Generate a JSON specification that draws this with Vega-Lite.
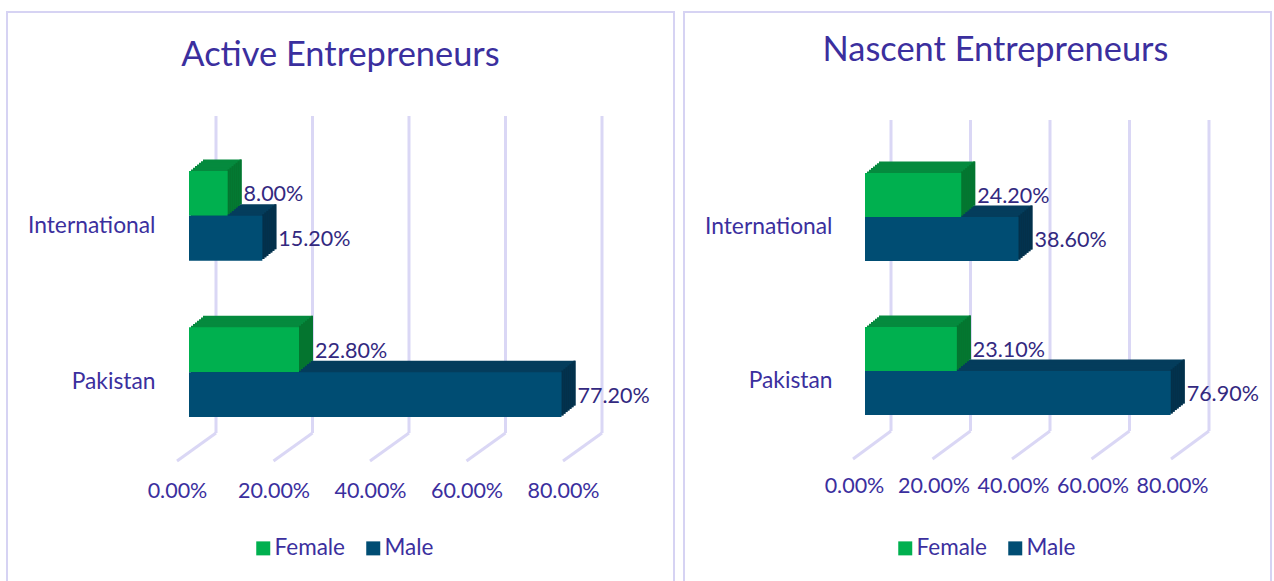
{
"$schema":"https://vega.github.io/schema/vega-lite/v6.json",
"autosize":{"type":"pad"},
"padding":{"left":6,"top":11,"right":4,"bottom":0},
"background":"#ffffff",
"spacing":8,
"config":{"view":{"stroke":"#D6D3F3","strokeWidth":2},"font":"Lato"},
"datasets":{
"ticks":[{"t":0,"top":1,"bottom":0},{"t":0.2,"top":1,"bottom":0},{"t":0.4,"top":1,"bottom":0},{"t":0.6,"top":1,"bottom":0},{"t":0.8,"top":1,"bottom":0}],
"active":[{"region":"International","gender":"Female","share":0.08},{"region":"International","gender":"Male","share":0.152},{"region":"Pakistan","gender":"Female","share":0.228},{"region":"Pakistan","gender":"Male","share":0.772}],
"nascent":[{"region":"International","gender":"Female","share":0.242},{"region":"International","gender":"Male","share":0.386},{"region":"Pakistan","gender":"Female","share":0.231},{"region":"Pakistan","gender":"Male","share":0.769}]
},
"hconcat":[
{"width":667,"height":570,
"title":{"text":"Active Entrepreneurs","fontSize":34.4,"fontWeight":"normal","color":"#3B2F9E","anchor":"middle","dy":65},
"resolve":{"scale":{"y":"independent","yOffset":"independent","fill":"independent"}},
"layer":[
{"data":{"name":"ticks"},"mark":{"type":"rule","stroke":"#DAD7F5","strokeWidth":3,"xOffset":27},
 "encoding":{"x":{"field":"t","type":"quantitative","scale":{"domain":[0,0.8],"range":[182,568]},"axis":{"values":[0,0.2,0.4,0.6,0.8],"format":".2%","title":null,"domain":false,"ticks":false,"grid":false,"labelFontSize":21.5,"labelColor":"#3B2F9E","labelBaseline":"top","labelPadding":0,"labelOffset":-12,"offset":-102,"labelFlush":false}},
 "y":{"field":"top","type":"quantitative","scale":{"domain":[0,1],"range":[421,104]},"axis":null},"y2":{"field":"bottom"}}},
{"data":{"name":"ticks"},"mark":{"type":"rule","stroke":"#DAD7F5","strokeWidth":3,"xOffset":27,"x2Offset":-12,"y2Offset":28},
 "encoding":{"x":{"field":"t","type":"quantitative"},"x2":{"field":"t"},
 "y":{"field":"bottom","type":"quantitative","scale":{"domain":[0,1],"range":[421,104]},"axis":null},"y2":{"field":"bottom"}}},
{"data":{"name":"active"},
 "resolve":{"scale":{"y":"independent","yOffset":"independent"}},
 "encoding":{"x":{"field":"share","type":"quantitative","stack":null},"x2":{"datum":0},
 "yOffset":{"field":"gender","type":"nominal","sort":["Female","Male"]},
 "fill":{"field":"gender","type":"nominal","scale":{"domain":["Female","Male"],"range":["#058A3E","#043D5C"]},"legend":null}},
 "layer":[
 {"mark":{"type":"bar","xOffset":14,"x2Offset":14},"encoding":{"y":{"field":"region","type":"nominal","sort":["International","Pakistan"],"scale":{"range":[147.5,393.5],"paddingInner":0.4268,"paddingOuter":0},"axis":null}}},
 {"mark":{"type":"bar","xOffset":12,"x2Offset":12},"encoding":{"y":{"field":"region","type":"nominal","sort":["International","Pakistan"],"scale":{"range":[149.2,395.2],"paddingInner":0.4268,"paddingOuter":0},"axis":null}}},
 {"mark":{"type":"bar","xOffset":10,"x2Offset":10},"encoding":{"y":{"field":"region","type":"nominal","sort":["International","Pakistan"],"scale":{"range":[150.8,396.8],"paddingInner":0.4268,"paddingOuter":0},"axis":null}}},
 {"mark":{"type":"bar","xOffset":8,"x2Offset":8},"encoding":{"y":{"field":"region","type":"nominal","sort":["International","Pakistan"],"scale":{"range":[152.4,398.4],"paddingInner":0.4268,"paddingOuter":0},"axis":null}}},
 {"mark":{"type":"bar","xOffset":6,"x2Offset":6},"encoding":{"y":{"field":"region","type":"nominal","sort":["International","Pakistan"],"scale":{"range":[154.1,400.1],"paddingInner":0.4268,"paddingOuter":0},"axis":null}}},
 {"mark":{"type":"bar","xOffset":4,"x2Offset":4},"encoding":{"y":{"field":"region","type":"nominal","sort":["International","Pakistan"],"scale":{"range":[155.7,401.7],"paddingInner":0.4268,"paddingOuter":0},"axis":null}}},
 {"mark":{"type":"bar","xOffset":2,"x2Offset":2},"encoding":{"y":{"field":"region","type":"nominal","sort":["International","Pakistan"],"scale":{"range":[157.4,403.4],"paddingInner":0.4268,"paddingOuter":0},"axis":null}}}
 ]},
{"data":{"name":"active"},
 "resolve":{"scale":{"y":"independent","yOffset":"independent"}},
 "encoding":{"x":{"field":"share","type":"quantitative","stack":null},"x2":{"field":"share"},
 "yOffset":{"field":"gender","type":"nominal","sort":["Female","Male"]},
 "fill":{"field":"gender","type":"nominal","scale":{"domain":["Female","Male"],"range":["#04752F","#03304A"]},"legend":null}},
 "layer":[
 {"mark":{"type":"bar","xOffset":12,"x2Offset":14},"encoding":{"y":{"field":"region","type":"nominal","sort":["International","Pakistan"],"scale":{"range":[147.5,393.5],"paddingInner":0.4268,"paddingOuter":0},"axis":null}}},
 {"mark":{"type":"bar","xOffset":10,"x2Offset":12},"encoding":{"y":{"field":"region","type":"nominal","sort":["International","Pakistan"],"scale":{"range":[149.2,395.2],"paddingInner":0.4268,"paddingOuter":0},"axis":null}}},
 {"mark":{"type":"bar","xOffset":8,"x2Offset":10},"encoding":{"y":{"field":"region","type":"nominal","sort":["International","Pakistan"],"scale":{"range":[150.8,396.8],"paddingInner":0.4268,"paddingOuter":0},"axis":null}}},
 {"mark":{"type":"bar","xOffset":6,"x2Offset":8},"encoding":{"y":{"field":"region","type":"nominal","sort":["International","Pakistan"],"scale":{"range":[152.4,398.4],"paddingInner":0.4268,"paddingOuter":0},"axis":null}}},
 {"mark":{"type":"bar","xOffset":4,"x2Offset":6},"encoding":{"y":{"field":"region","type":"nominal","sort":["International","Pakistan"],"scale":{"range":[154.1,400.1],"paddingInner":0.4268,"paddingOuter":0},"axis":null}}},
 {"mark":{"type":"bar","xOffset":2,"x2Offset":4},"encoding":{"y":{"field":"region","type":"nominal","sort":["International","Pakistan"],"scale":{"range":[155.7,401.7],"paddingInner":0.4268,"paddingOuter":0},"axis":null}}},
 {"mark":{"type":"bar","xOffset":0,"x2Offset":2},"encoding":{"y":{"field":"region","type":"nominal","sort":["International","Pakistan"],"scale":{"range":[157.4,403.4],"paddingInner":0.4268,"paddingOuter":0},"axis":null}}}
 ]},
{"data":{"name":"active"},
 "encoding":{"y":{"field":"region","type":"nominal","sort":["International","Pakistan"],"scale":{"range":[159,405],"paddingInner":0.4268,"paddingOuter":0},"axis":{"title":null,"domain":false,"ticks":false,"labelFontSize":22.8,"labelColor":"#3B2F9E","labelPadding":0,"labelOffset":10,"offset":-148}},
 "yOffset":{"field":"gender","type":"nominal","sort":["Female","Male"]},
 "x":{"field":"share","type":"quantitative","stack":null},
 "fill":{"field":"gender","type":"nominal","sort":["Female","Male"],"scale":{"domain":["Female","Male"],"range":["#00B04F","#004D73"]},"legend":{"title":null,"orient":"none","legendX":245,"legendY":525,"direction":"horizontal","columns":2,"symbolType":"square","symbolSize":196,"symbolStrokeWidth":0,"labelFontSize":22.5,"labelColor":"#3B2F9E","columnPadding":16,"labelOffset":0}}},
 "layer":[
 {"mark":{"type":"bar"}},
 {"mark":{"type":"text","align":"left","baseline":"middle","dx":16,"dy":2,"fontSize":21.5},"encoding":{"text":{"field":"share","type":"quantitative","format":".2%"},"fill":{"value":"#33297F"}}}
 ]}
]},
{"width":587,"height":570,
"title":{"text":"Nascent Entrepreneurs","fontSize":34.4,"fontWeight":"normal","color":"#3B2F9E","anchor":"middle","dx":18,"dy":60},
"resolve":{"scale":{"y":"independent","yOffset":"independent","fill":"independent"}},
"layer":[
{"data":{"name":"ticks"},"mark":{"type":"rule","stroke":"#DAD7F5","strokeWidth":3,"xOffset":26},
 "encoding":{"x":{"field":"t","type":"quantitative","scale":{"domain":[0,0.8],"range":[181,499]},"axis":{"values":[0,0.2,0.4,0.6,0.8],"format":".2%","title":null,"domain":false,"ticks":false,"grid":false,"labelFontSize":21.5,"labelColor":"#3B2F9E","labelBaseline":"top","labelPadding":0,"labelOffset":-11,"offset":-107,"labelFlush":false}},
 "y":{"field":"top","type":"quantitative","scale":{"domain":[0,1],"range":[419,108]},"axis":null},"y2":{"field":"bottom"}}},
{"data":{"name":"ticks"},"mark":{"type":"rule","stroke":"#DAD7F5","strokeWidth":3,"xOffset":26,"x2Offset":-12,"y2Offset":28},
 "encoding":{"x":{"field":"t","type":"quantitative"},"x2":{"field":"t"},
 "y":{"field":"bottom","type":"quantitative","scale":{"domain":[0,1],"range":[419,108]},"axis":null},"y2":{"field":"bottom"}}},
{"data":{"name":"nascent"},
 "resolve":{"scale":{"y":"independent","yOffset":"independent"}},
 "encoding":{"x":{"field":"share","type":"quantitative","stack":null},"x2":{"datum":0},
 "yOffset":{"field":"gender","type":"nominal","sort":["Female","Male"]},
 "fill":{"field":"gender","type":"nominal","scale":{"domain":["Female","Male"],"range":["#058A3E","#043D5C"]},"legend":null}},
 "layer":[
 {"mark":{"type":"bar","xOffset":14,"x2Offset":14},"encoding":{"y":{"field":"region","type":"nominal","sort":["International","Pakistan"],"scale":{"range":[149.5,391.5],"paddingInner":0.4286,"paddingOuter":0},"axis":null}}},
 {"mark":{"type":"bar","xOffset":12,"x2Offset":12},"encoding":{"y":{"field":"region","type":"nominal","sort":["International","Pakistan"],"scale":{"range":[151.2,393.2],"paddingInner":0.4286,"paddingOuter":0},"axis":null}}},
 {"mark":{"type":"bar","xOffset":10,"x2Offset":10},"encoding":{"y":{"field":"region","type":"nominal","sort":["International","Pakistan"],"scale":{"range":[152.8,394.8],"paddingInner":0.4286,"paddingOuter":0},"axis":null}}},
 {"mark":{"type":"bar","xOffset":8,"x2Offset":8},"encoding":{"y":{"field":"region","type":"nominal","sort":["International","Pakistan"],"scale":{"range":[154.4,396.4],"paddingInner":0.4286,"paddingOuter":0},"axis":null}}},
 {"mark":{"type":"bar","xOffset":6,"x2Offset":6},"encoding":{"y":{"field":"region","type":"nominal","sort":["International","Pakistan"],"scale":{"range":[156.1,398.1],"paddingInner":0.4286,"paddingOuter":0},"axis":null}}},
 {"mark":{"type":"bar","xOffset":4,"x2Offset":4},"encoding":{"y":{"field":"region","type":"nominal","sort":["International","Pakistan"],"scale":{"range":[157.7,399.7],"paddingInner":0.4286,"paddingOuter":0},"axis":null}}},
 {"mark":{"type":"bar","xOffset":2,"x2Offset":2},"encoding":{"y":{"field":"region","type":"nominal","sort":["International","Pakistan"],"scale":{"range":[159.4,401.4],"paddingInner":0.4286,"paddingOuter":0},"axis":null}}}
 ]},
{"data":{"name":"nascent"},
 "resolve":{"scale":{"y":"independent","yOffset":"independent"}},
 "encoding":{"x":{"field":"share","type":"quantitative","stack":null},"x2":{"field":"share"},
 "yOffset":{"field":"gender","type":"nominal","sort":["Female","Male"]},
 "fill":{"field":"gender","type":"nominal","scale":{"domain":["Female","Male"],"range":["#04752F","#03304A"]},"legend":null}},
 "layer":[
 {"mark":{"type":"bar","xOffset":12,"x2Offset":14},"encoding":{"y":{"field":"region","type":"nominal","sort":["International","Pakistan"],"scale":{"range":[149.5,391.5],"paddingInner":0.4286,"paddingOuter":0},"axis":null}}},
 {"mark":{"type":"bar","xOffset":10,"x2Offset":12},"encoding":{"y":{"field":"region","type":"nominal","sort":["International","Pakistan"],"scale":{"range":[151.2,393.2],"paddingInner":0.4286,"paddingOuter":0},"axis":null}}},
 {"mark":{"type":"bar","xOffset":8,"x2Offset":10},"encoding":{"y":{"field":"region","type":"nominal","sort":["International","Pakistan"],"scale":{"range":[152.8,394.8],"paddingInner":0.4286,"paddingOuter":0},"axis":null}}},
 {"mark":{"type":"bar","xOffset":6,"x2Offset":8},"encoding":{"y":{"field":"region","type":"nominal","sort":["International","Pakistan"],"scale":{"range":[154.4,396.4],"paddingInner":0.4286,"paddingOuter":0},"axis":null}}},
 {"mark":{"type":"bar","xOffset":4,"x2Offset":6},"encoding":{"y":{"field":"region","type":"nominal","sort":["International","Pakistan"],"scale":{"range":[156.1,398.1],"paddingInner":0.4286,"paddingOuter":0},"axis":null}}},
 {"mark":{"type":"bar","xOffset":2,"x2Offset":4},"encoding":{"y":{"field":"region","type":"nominal","sort":["International","Pakistan"],"scale":{"range":[157.7,399.7],"paddingInner":0.4286,"paddingOuter":0},"axis":null}}},
 {"mark":{"type":"bar","xOffset":0,"x2Offset":2},"encoding":{"y":{"field":"region","type":"nominal","sort":["International","Pakistan"],"scale":{"range":[159.4,401.4],"paddingInner":0.4286,"paddingOuter":0},"axis":null}}}
 ]},
{"data":{"name":"nascent"},
 "encoding":{"y":{"field":"region","type":"nominal","sort":["International","Pakistan"],"scale":{"range":[161,403],"paddingInner":0.4286,"paddingOuter":0},"axis":{"title":null,"domain":false,"ticks":false,"labelFontSize":22.8,"labelColor":"#3B2F9E","labelPadding":0,"labelOffset":10,"offset":-148}},
 "yOffset":{"field":"gender","type":"nominal","sort":["Female","Male"]},
 "x":{"field":"share","type":"quantitative","stack":null},
 "fill":{"field":"gender","type":"nominal","sort":["Female","Male"],"scale":{"domain":["Female","Male"],"range":["#00B04F","#004D73"]},"legend":{"title":null,"orient":"none","legendX":210,"legendY":525,"direction":"horizontal","columns":2,"symbolType":"square","symbolSize":196,"symbolStrokeWidth":0,"labelFontSize":22.5,"labelColor":"#3B2F9E","columnPadding":16,"labelOffset":0}}},
 "layer":[
 {"mark":{"type":"bar"}},
 {"mark":{"type":"text","align":"left","baseline":"middle","dx":16,"dy":2,"fontSize":21.5},"encoding":{"text":{"field":"share","type":"quantitative","format":".2%"},"fill":{"value":"#33297F"}}}
 ]}
]}
]}
